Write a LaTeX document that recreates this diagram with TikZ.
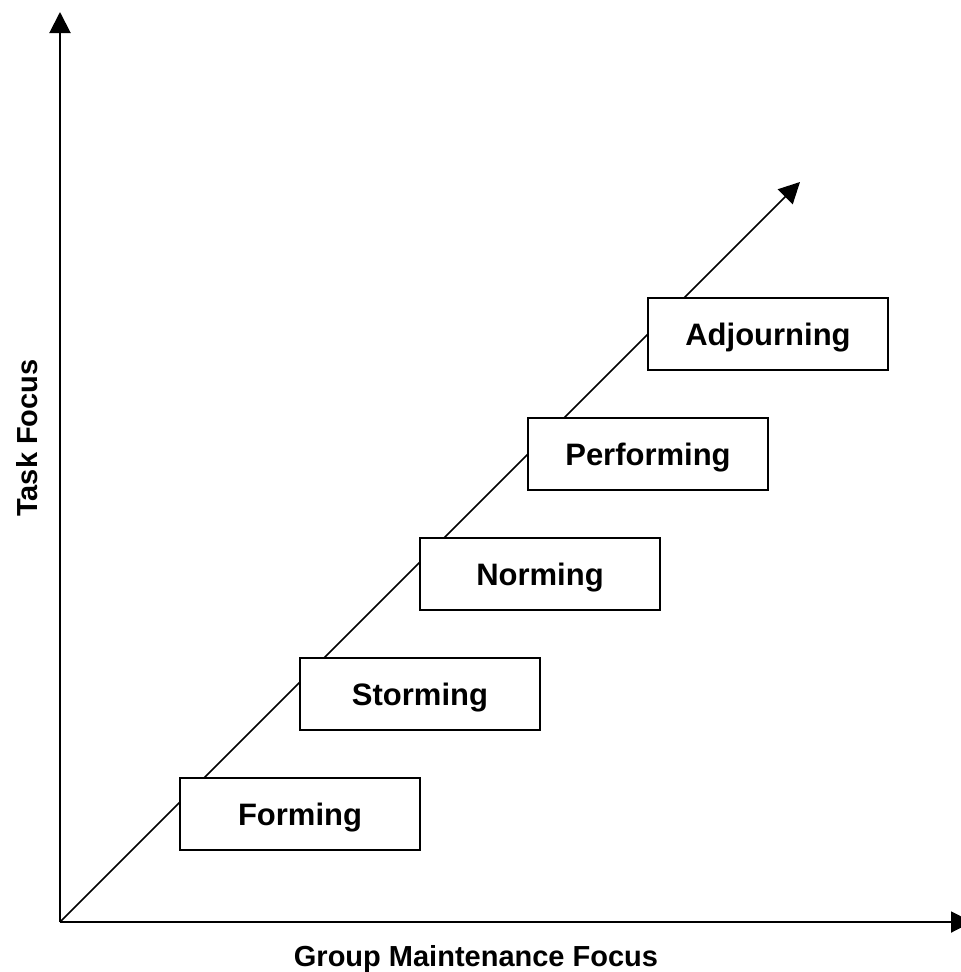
\documentclass[tikz,border=0pt]{standalone}
\usepackage{fontspec}
\setmainfont{Liberation Sans}
\usetikzlibrary{arrows.meta}
\begin{document}
\begin{tikzpicture}[x=1pt,y=-1pt,
  axis/.style={line width=2pt,-{Triangle[length=21pt,width=21pt]}},
  stagebox/.style={draw,line width=1.8pt,fill=white,minimum width=240pt,minimum height=72pt,
    inner sep=0pt,text height=22.2pt,text depth=0pt,font=\fontsize{31}{36}\selectfont\bfseries},
  axislabel/.style={font=\fontsize{29}{34}\selectfont\bfseries,inner sep=0pt,
    text height=20.8pt,text depth=0pt}]
\useasboundingbox (0,0) rectangle (961,972);
\clip (0,0) rectangle (961,972);
% axes
\coordinate (O) at (60,922);
\coordinate (ytip) at (60,12);
\coordinate (xtip) at (972,922);
\coordinate (dtip) at (800,182);
\draw[axis] (O) -- (ytip);
\draw[axis] (O) -- (xtip);
\draw[axis,line width=1.6pt] (O) -- (dtip);
% stages
\node[stagebox] (forming) at (300,814) {Forming};
\node[stagebox] (storming) at (420,694) {Storming};
\node[stagebox] (norming) at (540,574) {Norming};
\node[stagebox] (performing) at (648,454) {Performing};
\node[stagebox] (adjourning) at (768,334) {Adjourning};
% axis labels
\node[axislabel,rotate=90] (ylab) at (27,438) {Task Focus};
\node[axislabel] (xlab) at (476,956) {Group Maintenance Focus};
\end{tikzpicture}
\end{document}
